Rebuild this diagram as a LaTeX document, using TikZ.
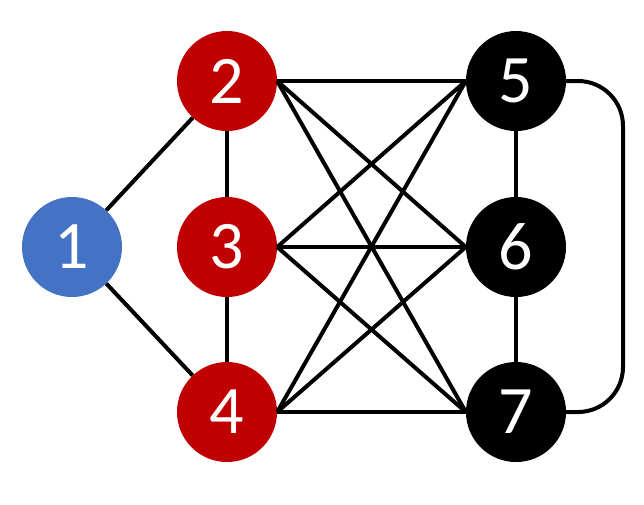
\documentclass[tikz,border=0pt]{standalone}
\usepackage{fontspec}
\setmainfont{Carlito}
\usepackage{tikz}
\definecolor{nodeblue}{HTML}{4472C4}
\definecolor{nodered}{HTML}{C00000}
\tikzset{
  vertex/.style={circle,minimum size=100pt,inner sep=0pt,text=white,
    font={\fontsize{68pt}{72pt}\selectfont}},
  edge/.style={black,line width=4pt}}

\begin{document}
\begin{tikzpicture}[x=1pt,y=-1pt]
\useasboundingbox (0,0) rectangle (644,504);
\node [vertex,fill=nodeblue] (v1) at (72,247) {1};
\node [vertex,fill=nodered] (v2) at (227,81) {2};
\node [vertex,fill=nodered] (v3) at (227,247) {3};
\node [vertex,fill=nodered] (v4) at (227,412) {4};
\node [vertex,fill=black] (v5) at (516,81) {5};
\node [vertex,fill=black] (v6) at (516,247) {6};
\node [vertex,fill=black] (v7) at (516,412) {7};
\draw [edge] (v1) -- (v2);
\draw [edge] (v1) -- (v4);
\draw [edge] (v2) -- (v3);
\draw [edge] (v3) -- (v4);
\draw [edge] (v5) -- (v6);
\draw [edge] (v6) -- (v7);
\foreach \a in {v2,v3,v4}
  \foreach \b in {v5,v6,v7}
    \draw [edge] (\a.east) -- (\b.west);
\draw [edge,rounded corners=45pt] (v5.east) -| (623,247) |- (v7.east);
\end{tikzpicture}
\end{document}
